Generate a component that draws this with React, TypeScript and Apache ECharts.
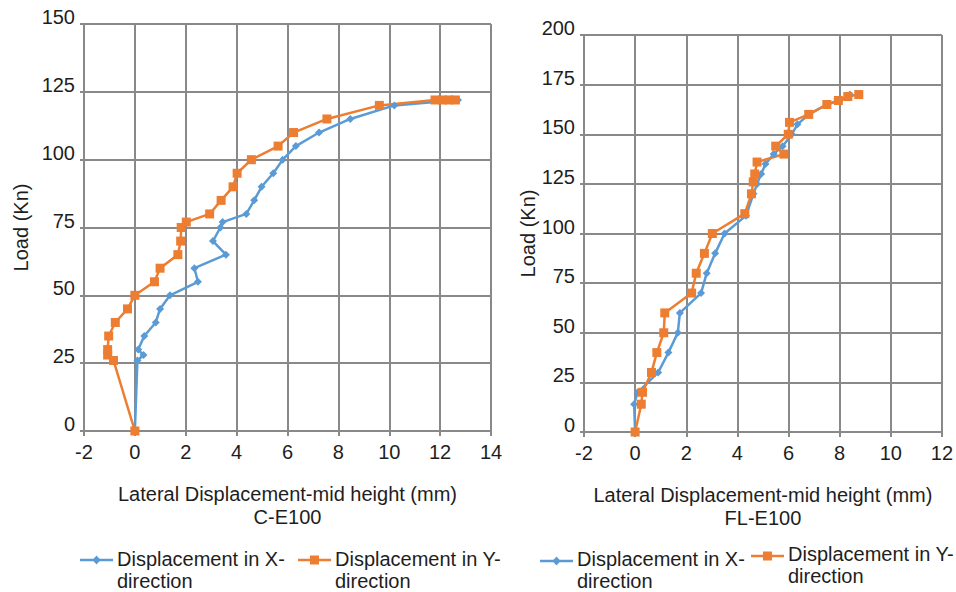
import React, { useEffect, useRef } from "react";
import * as echarts from "echarts";

// ---- Data ----
const xTicks = { min: -2, interval: 2 };

// C-E100
const ceLoadX = [0, 26, 28, 30, 35, 40, 45, 50, 55, 60, 65, 70, 75, 77, 80, 85, 90, 95, 100, 105, 110, 115, 120, 122];
const ceDispX = [0, 0.1, 0.34, 0.13, 0.37, 0.82, 0.99, 1.38, 2.48, 2.34, 3.58, 3.07, 3.36, 3.45, 4.38, 4.69, 4.98, 5.44, 5.81, 6.33, 7.24, 8.47, 10.2, 12.7];
const ceLoadY = [0, 26, 28, 30, 35, 40, 45, 50, 55, 60, 65, 70, 75, 77, 80, 85, 90, 95, 100, 105, 110, 115, 120, 122, 122, 122, 122];
const ceDispY = [0, -0.84, -1.07, -1.07, -1.03, -0.77, -0.29, 0, 0.77, 0.99, 1.69, 1.8, 1.82, 2.02, 2.94, 3.39, 3.86, 4.02, 4.58, 5.63, 6.24, 7.55, 9.61, 11.8, 12.1, 12.35, 12.6];

// FL-E100
const flLoadX = [0, 14, 20, 30, 40, 50, 60, 70, 80, 90, 100, 109, 120, 125, 130, 135, 140, 144, 150, 155, 160, 165, 167, 170];
const flDispX = [0, -0.04, 0.1, 0.9, 1.3, 1.67, 1.75, 2.58, 2.8, 3.13, 3.5, 4.34, 4.63, 4.77, 4.93, 5.1, 5.42, 5.77, 6.13, 6.35, 6.8, 7.5, 8.0, 8.4];
const flLoadY = [0, 14, 20, 30, 40, 50, 60, 70, 80, 90, 100, 110, 120, 126, 130, 136, 140, 144, 150, 156, 160, 165, 167, 169, 170];
const flDispY = [0, 0.24, 0.29, 0.64, 0.85, 1.12, 1.16, 2.21, 2.39, 2.71, 3.02, 4.29, 4.55, 4.62, 4.68, 4.77, 5.82, 5.5, 5.99, 6.04, 6.79, 7.5, 7.95, 8.32, 8.75];

const seriesNames = ["Displacement in X-direction", "Displacement in Y-direction"];
const legendLines = ["Displacement in X-\ndirection", "Displacement in Y-\ndirection"];
const xAxisTitle = "Lateral Displacement-mid height (mm)";
const yAxisTitle = "Load (Kn)";
const chartTitles = ["C-E100", "FL-E100"];

const BLUE = "#5B9BD5";
const ORANGE = "#ED7D31";
const GRID = "#898989";
const TEXT = "#1e1e1e";
const FONT = "'Liberation Sans', Arial, sans-serif";
const FS = 20;

const zip = (xs: number[], ys: number[]) => xs.map((x, i) => [x, ys[i]]);

function xAxis(gridIndex: number, max: number, title: string) {
  return {
    gridIndex,
    type: "value",
    min: xTicks.min,
    max,
    interval: xTicks.interval,
    axisLine: { show: true, onZero: false, lineStyle: { color: GRID, width: 2 } },
    axisTick: { show: true, length: 5, lineStyle: { color: GRID, width: 2 } },
    splitLine: { show: true, lineStyle: { color: GRID, width: 2 } },
    axisLabel: { color: TEXT, fontSize: FS, fontFamily: FONT, margin: 11, lineHeight: 20 },
    name: xAxisTitle + "\n" + title,
    nameLocation: "middle",
    nameGap: 51,
    nameTextStyle: { color: TEXT, fontSize: FS, fontFamily: FONT, lineHeight: 23 },
  };
}

function yAxis(gridIndex: number, max: number, gap: number) {
  return {
    gridIndex,
    type: "value",
    min: 0,
    max,
    interval: 25,
    axisLine: { show: true, onZero: false, lineStyle: { color: GRID, width: 2 } },
    axisTick: { show: true, length: 4, lineStyle: { color: GRID, width: 2 } },
    splitLine: { show: true, lineStyle: { color: GRID, width: 2 } },
    axisLabel: {
      color: TEXT,
      fontSize: FS,
      fontFamily: FONT,
      margin: 9,
      verticalAlign: "bottom",
      lineHeight: 14,
    },
    name: yAxisTitle,
    nameLocation: "middle",
    nameGap: gap,
    nameRotate: 90,
    nameTextStyle: { color: TEXT, fontSize: FS, fontFamily: FONT },
  };
}

function line(name: string, idx: number, data: number[][], color: string, symbol: string, size: number) {
  return {
    name,
    type: "line",
    xAxisIndex: idx,
    yAxisIndex: idx,
    data,
    symbol,
    symbolSize: size,
    showSymbol: true,
    lineStyle: { color, width: 2.5 },
    itemStyle: { color },
    z: 3,
  };
}

function legendItem(x: number, y: number, textY: number, color: string, kind: "diamond" | "square", text: string) {
  const cx = x + 16.5;
  const marker =
    kind === "diamond"
      ? {
          type: "polygon",
          shape: { points: [[cx, y - 4.5], [cx + 4, y], [cx, y + 4.5], [cx - 4, y]] },
          style: { fill: color },
        }
      : { type: "rect", shape: { x: cx - 4.5, y: y - 4.5, width: 9, height: 9 }, style: { fill: color } };
  return {
    type: "group",
    children: [
      { type: "line", shape: { x1: x, y1: y, x2: x + 33, y2: y }, style: { stroke: color, lineWidth: 2.5 } },
      marker,
      {
        type: "text",
        x: x + 37,
        y: textY - 11,
        style: { text, fill: TEXT, font: `${FS}px ${FONT}`, lineHeight: 22, verticalAlign: "top" },
      },
    ],
  };
}

export default function App() {
  const ref = useRef<HTMLDivElement>(null);
  useEffect(() => {
    if (!ref.current) return;
    const chart = echarts.init(ref.current, undefined, { renderer: "svg" });
    chart.setOption({
      animation: false,
      grid: [
        { left: 84, top: 24, width: 407, height: 407 },
        { left: 584, top: 35, width: 358, height: 397 },
      ],
      xAxis: [xAxis(0, 14, chartTitles[0]), xAxis(1, 12, chartTitles[1])],
      yAxis: [yAxis(0, 150, 53), yAxis(1, 200, 46)],
      series: [
        line(seriesNames[0], 0, zip(ceDispX, ceLoadX), BLUE, "diamond", 8),
        line(seriesNames[1], 0, zip(ceDispY, ceLoadY), ORANGE, "rect", 9),
        line(seriesNames[0], 1, zip(flDispX, flLoadX), BLUE, "diamond", 8),
        line(seriesNames[1], 1, zip(flDispY, flLoadY), ORANGE, "rect", 9),
      ],
      graphic: [
        legendItem(80, 560, 559, BLUE, "diamond", legendLines[0]),
        legendItem(298, 560, 559, ORANGE, "square", legendLines[1]),
        legendItem(540, 561, 559, BLUE, "diamond", legendLines[0]),
        legendItem(751, 556, 554, ORANGE, "square", legendLines[1]),
      ],
    });
    return () => chart.dispose();
  }, []);
  return (
    <div
      ref={ref}
      style={{ position: "absolute", left: 0, top: 0, width: 956, height: 592, background: "#fff" }}
    />
  );
}
